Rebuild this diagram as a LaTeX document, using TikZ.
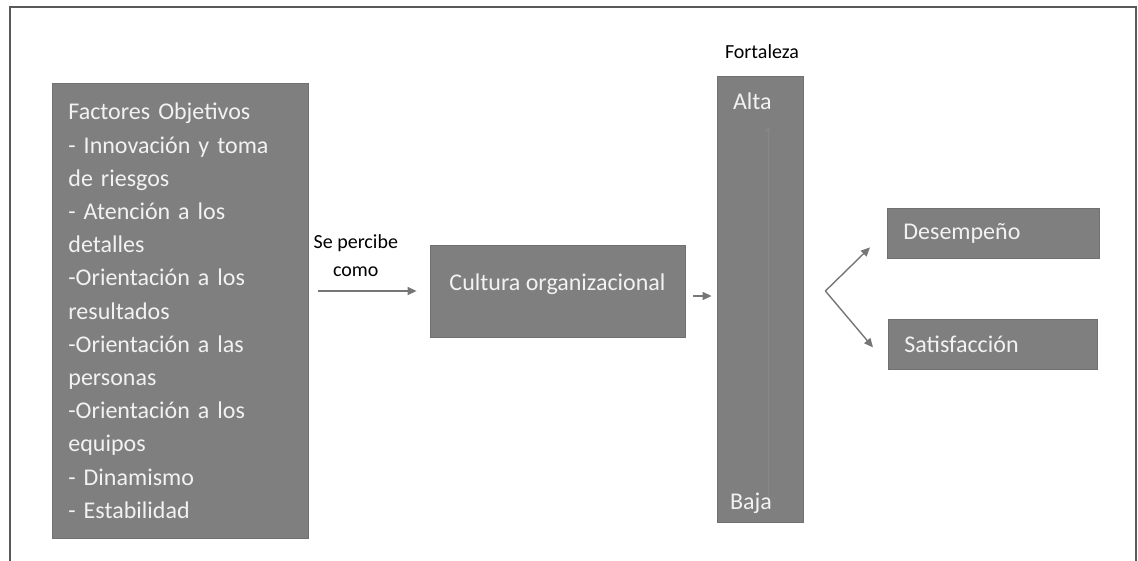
\documentclass[tikz,border=0pt]{standalone}
\usepackage{fontspec}
\setmainfont{Carlito}
\usetikzlibrary{arrows.meta}

\definecolor{cajagris}{RGB}{127,127,127}
\definecolor{bordegris}{RGB}{112,112,112}
\definecolor{textoclaro}{RGB}{242,242,242}
\definecolor{flechagris}{RGB}{118,118,118}
\definecolor{marcogris}{RGB}{90,90,90}

\tikzset{
	caja/.style={draw=bordegris, line width=0.8pt, fill=cajagris, text=textoclaro, font=\fontsize{24}{33.2}\selectfont, inner sep=0pt},
	flecha/.style={draw=flechagris, line width=1.4pt, -{Triangle[length=9pt,width=8pt]}},
	rotulo/.style={text=black, font=\fontsize{20}{28}\selectfont, inner sep=0pt}
}

\begin{document}
\begin{tikzpicture}[x=1pt,y=-1pt]
		%%%%% START %%%%%
		
		\useasboundingbox (0,0) rectangle (1138,560);
		\clip (0,0) rectangle (1138,560);
		\draw[line width=2pt, color=marcogris] (10,7) rectangle (1136,600);
		
		\node[caja, anchor=north west, minimum width=256pt, minimum height=455pt, text width=224pt, align=left] (factores) at (52,83) {Factores Objetivos\\- Innovación y toma\\de riesgos\\- Atención a los\\detalles\\-Orientación a los\\resultados\\-Orientación a las\\personas\\-Orientación a los\\equipos\\- Dinamismo\\- Estabilidad};
		
		\node[caja, minimum width=255pt, minimum height=92pt, text depth=18pt] (cultura) at (557.5,291) {Cultura organizacional};
		
		\node[caja, minimum width=86pt, minimum height=446pt] (fuerza) at (760,299) {};
		\draw[line width=1pt, color=cajagris!94!white, -{Triangle[length=6pt,width=5pt]}] ([xshift=8pt,yshift=16pt]fuerza.south) -- ([xshift=8pt,yshift=-50pt]fuerza.north);
		\node[caja, draw=none, fill=none, anchor=west] (alta) at ([xshift=16pt,yshift=-26pt]fuerza.north west) {Alta};
		\node[caja, draw=none, fill=none, anchor=west] (baja) at ([xshift=13pt,yshift=19pt]fuerza.south west) {Baja};
		\node[rotulo] (fortaleza) at ([xshift=2pt,yshift=24pt]fuerza.north) {Fortaleza};
		
		\node[caja, anchor=north west, minimum width=212pt, minimum height=50pt, text width=180pt, align=left] (desempeno) at (887,208) {Desempeño};
		\node[caja, anchor=north west, minimum width=209pt, minimum height=50pt, text width=177pt, align=left] (satisfaccion) at (888,319) {Satisfacción};
		
		\coordinate (percibeini) at ([xshift=9pt]factores.east |- cultura.west);
		\draw[flecha] (percibeini) -- ([xshift=-13pt]cultura.west);
		\node[rotulo, align=center] (percibe) at ([xshift=38pt,yshift=35pt]percibeini) {Se percibe\\como};
		
		\draw[flecha] ([xshift=8pt,yshift=-5pt]cultura.east) -- ([xshift=-5pt,yshift=-5pt]cultura.east -| fuerza.west);
		
		\coordinate (reparto) at ([xshift=22pt]fuerza.east |- cultura.east);
		\draw[flecha] (reparto) -- ([xshift=-17pt,yshift=-14pt]desempeno.west);
		\draw[flecha] (reparto) -- ([xshift=-15pt,yshift=-3pt]satisfaccion.west);
		
		%%%%% END %%%%%
\end{tikzpicture}
\end{document}
